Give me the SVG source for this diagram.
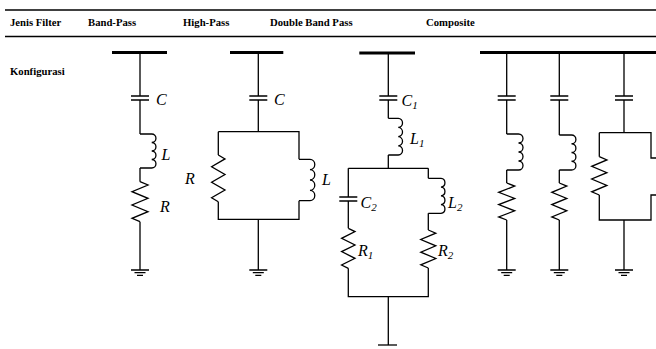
<svg xmlns="http://www.w3.org/2000/svg" width="656" height="349" viewBox="0 0 656 349">
<style>
.hd{font-family:"Liberation Serif","Times New Roman",serif;font-weight:bold;font-size:10.7px;fill:#000}
.lb{font-family:"Liberation Serif","Times New Roman",serif;font-style:italic;font-size:16px;fill:#000}
.sub{font-size:11px}
.w{stroke:#000;stroke-width:1.3;fill:none}
.bus{stroke:#000;stroke-width:3;fill:none}
.pl{stroke:#000;stroke-width:1.6;fill:none}
.hl{stroke:#000;stroke-width:1.4;fill:none}
</style>
<rect width="656" height="349" fill="#fff"/>
<g id="header">
<line class="hl" x1="5" y1="10" x2="656" y2="10"/>
<line class="hl" x1="5" y1="36.5" x2="656" y2="36.5"/>
<text class="hd" x="10" y="26">Jenis Filter</text>
<text class="hd" x="88" y="26">Band-Pass</text>
<text class="hd" x="183" y="26">High-Pass</text>
<text class="hd" x="270" y="26">Double Band Pass</text>
<text class="hd" x="426" y="26">Composite</text>
<text class="hd" x="10" y="75">Konfigurasi</text>
</g>
<g id="band-pass">
<line class="bus" x1="112" y1="52.5" x2="167" y2="52.5"/>
<path class="w" d="M140,52.5V96M140,100V134M140,168V181.7M140,221.7V270"/>
<path class="pl" d="M131,96H149M131,100H149"/>
<path class="w" d="M140,134H151.7a4.25,4.25 0 0 1 0,8.5a4.25,4.25 0 0 1 0,8.5a4.25,4.25 0 0 1 0,8.5a4.25,4.25 0 0 1 0,8.5H140"/>
<polyline class="w" points="140,181.7 148,185 132,191.7 148,198.3 132,205 148,211.7 132,218.3 140,221.7"/>
<path class="w" d="M131,270H149M134.5,272.7H145.5M137,275.3H143"/>
<text class="lb" x="156" y="105">C</text>
<text class="lb" x="161.5" y="160">L</text>
<text class="lb" x="160" y="212">R</text>
</g>
<g id="high-pass">
<line class="bus" x1="230" y1="52.5" x2="283.3" y2="52.5"/>
<path class="w" d="M258.3,52.5V96M258.3,100V131.7M258.3,219.3V270"/>
<path class="pl" d="M249.3,96H267.3M249.3,100H267.3"/>
<path class="w" d="M218.3,131.7H299V159.3M218.3,131.7V155M218.3,201.7V219.3H299V200.7"/>
<polyline class="w" points="218.3,155 225,158.9 211.6,166.7 225,174.5 211.6,182.2 225,190 211.6,197.8 218.3,201.7"/>
<path class="w" d="M299,159.3H310a5,5.18 0 0 1 0,10.35a5,5.18 0 0 1 0,10.35a5,5.18 0 0 1 0,10.35a5,5.18 0 0 1 0,10.35H299"/>
<path class="w" d="M249.3,270H267.3M252.8,272.7H263.8M255.3,275.3H261.3"/>
<text class="lb" x="274" y="105">C</text>
<text class="lb" x="185" y="184">R</text>
<text class="lb" x="322" y="185">L</text>
</g>
<g id="double-band-pass">
<line class="bus" x1="359.3" y1="53" x2="415" y2="53"/>
<path class="w" d="M388.3,53V96M388.3,100V118.3M388.3,155V168.3M348.3,168.3H428.3M348.3,168.3V197M348.3,201V228.3M348.3,268.3V296.7H428.3V268M428.3,168.3V178.3M428.3,213.3V230M388.3,296.7V345"/>
<path class="pl" d="M379.3,96H397.3M379.3,100H397.3M339.3,197H357.3M339.3,201H357.3"/>
<path class="w" d="M388.3,118.3H398.3a4.6,4.6 0 0 1 0,9.17a4.6,4.6 0 0 1 0,9.17a4.6,4.6 0 0 1 0,9.17a4.6,4.6 0 0 1 0,9.17H388.3"/>
<path class="w" d="M428.3,178.3H441a4.4,4.4 0 0 1 0,8.75a4.4,4.4 0 0 1 0,8.75a4.4,4.4 0 0 1 0,8.75a4.4,4.4 0 0 1 0,8.75H428.3"/>
<polyline class="w" points="348.3,228.3 355,231.6 341.6,238.3 355,245 341.6,251.6 355,258.3 341.6,265 348.3,268.3"/>
<polyline class="w" points="428.3,230 435.8,233.2 420.8,239.5 435.8,245.8 420.8,252.2 435.8,258.5 420.8,264.8 428.3,268"/>
<path class="w" d="M378,345H397"/>
<text class="lb" x="401.5" y="106">C<tspan class="sub" dy="3">1</tspan></text>
<text class="lb" x="410" y="144">L<tspan class="sub" dy="3">1</tspan></text>
<text class="lb" x="360.5" y="208">C<tspan class="sub" dy="3">2</tspan></text>
<text class="lb" x="448" y="208">L<tspan class="sub" dy="3">2</tspan></text>
<text class="lb" x="358" y="256">R<tspan class="sub" dy="3">1</tspan></text>
<text class="lb" x="438" y="256">R<tspan class="sub" dy="3">2</tspan></text>
</g>
<g id="composite">
<line class="bus" x1="480" y1="52.5" x2="656" y2="52.5"/>
<path class="w" d="M506.7,52.5V96M506.7,100V134M506.7,170V183M506.7,220V270"/>
<path class="pl" d="M497.7,96H515.7M497.7,100H515.7"/>
<path class="w" d="M506.7,134H518.5a4.5,4.5 0 0 1 0,9a4.5,4.5 0 0 1 0,9a4.5,4.5 0 0 1 0,9a4.5,4.5 0 0 1 0,9H506.7"/>
<polyline class="w" points="506.7,183 514.7,186.1 498.7,192.3 514.7,198.4 498.7,204.6 514.7,210.8 498.7,216.9 506.7,220"/>
<path class="w" d="M497.7,270H515.7M501.2,272.7H512.2M503.7,275.3H509.7"/>
<path class="w" d="M559.3,52.5V96M559.3,100V135M559.3,170V183M559.3,220V270"/>
<path class="pl" d="M550.3,96H568.3M550.3,100H568.3"/>
<path class="w" d="M559.3,135H571.5a4.4,4.375 0 0 1 0,8.75a4.4,4.375 0 0 1 0,8.75a4.4,4.375 0 0 1 0,8.75a4.4,4.375 0 0 1 0,8.75H559.3"/>
<polyline class="w" points="559.3,183 566.8,186.1 551.8,192.3 566.8,198.4 551.8,204.6 566.8,210.8 551.8,216.9 559.3,220"/>
<path class="w" d="M550.3,270H568.3M553.8,272.7H564.8M556.3,275.3H562.3"/>
<path class="w" d="M624,52.5V96M624,100V132.7M599.3,132.7H651V158H656M599.3,132.7V156.7M599.3,195V220H651V195H656M624,220V270"/>
<path class="pl" d="M615,96H633M615,100H633"/>
<polyline class="w" points="599.3,156.7 606.9,159.9 591.7,166.3 606.9,172.7 591.7,179 606.9,185.4 591.7,191.8 599.3,195"/>
<path class="w" d="M615,270H633M618.5,272.7H629.5M621,275.3H627"/>
</g>
</svg>
